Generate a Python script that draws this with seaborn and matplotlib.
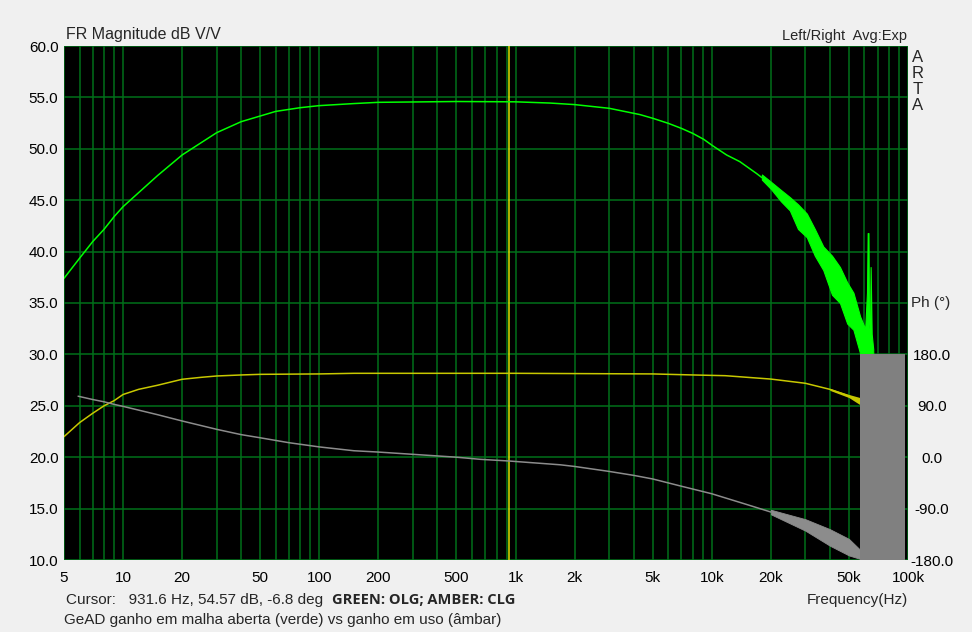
import numpy as np
import matplotlib
matplotlib.use("Agg")
import matplotlib.pyplot as plt
import seaborn as sns

# --- data ---
# open loop gain (green), main trace
olg_f = [5, 6, 7, 8, 9, 10, 15, 20, 30, 40, 50, 60, 80, 100, 150, 200, 500,
         1000, 1500, 2000, 3000, 4300, 5000, 6000, 7000, 8000, 9100, 10100,
         11900, 13900, 16900, 18000]
olg_db = [37.4, 39.35, 40.97, 42.17, 43.4, 44.37, 47.4, 49.4, 51.57, 52.64, 53.19,
          53.64, 54.0, 54.2, 54.4, 54.52, 54.6, 54.57, 54.45, 54.3, 53.94, 53.33,
          52.97, 52.48, 51.99, 51.5, 50.92, 50.3, 49.4, 48.75, 47.6, 47.2]
# noisy high-frequency part of the open loop gain (low / high envelope)
olg_band_f = [18000, 20000, 22500, 25000, 27500, 30500, 33500, 37000, 41000, 45000,
              49000, 52700, 57000, 60500, 61800, 62300, 62900, 63300, 64000,
              64500, 65300, 66500]
olg_band_lo = [47.0, 46.1, 44.9, 44.0, 42.2, 41.4, 39.6, 38.2, 35.8, 35.0,
               33.0, 32.4, 30.1, 30.0, 30.0, 30.0, 30.0, 30.0, 30.0,
               30.0, 30.0, 30.0]
olg_band_hi = [47.5, 46.8, 46.0, 45.3, 44.6, 43.7, 42.2, 40.5, 39.6, 38.5,
               37.0, 36.0, 33.7, 32.5, 36.0, 41.8, 41.8, 33.0, 32.0,
               38.5, 32.0, 30.5]

# closed loop gain (amber)
clg_f = [5, 6, 7, 8, 9, 10, 12, 15, 20, 25, 30, 40, 50, 100, 150, 1000, 5000,
         8000, 11700, 20000, 30000, 40000, 50000, 57000]
clg_db = [22.0, 23.36, 24.27, 25.0, 25.5, 26.1, 26.6, 27.0, 27.58, 27.77, 27.9,
          28.0, 28.06, 28.1, 28.16, 28.16, 28.1, 28.0, 27.93, 27.6, 27.19, 26.6,
          25.95, 25.45]
clg_band_f = [40000, 50000, 57000]
clg_band_lo = [26.5, 25.8, 25.1]
clg_band_hi = [26.7, 26.1, 25.8]

# phase of the open loop gain (grey), degrees
ph_f = [5.9, 7, 8, 9, 10, 15, 20, 30, 40, 50, 70, 100, 150, 200, 500, 660, 930,
        1690, 2000, 3000, 4000, 5000, 7000, 10000, 15000, 20000]
ph_deg = [106.8, 101, 97, 92.5, 89, 74.4, 63.4, 48.8, 39.5, 34, 25.4, 18, 11.3,
          9, 0, -3.7, -6.7, -13.3, -16.2, -24.9, -31.8, -38.1, -50.8, -64,
          -82.6, -96]
ph_band_f = [20000, 30000, 40000, 50000, 57000]
ph_band_lo = [-100, -128.7, -155, -172, -178]
ph_band_hi = [-92, -108.5, -126, -143, -162]
# phase wraps continuously above ~57 kHz -> solid block
wrap_f = [57000, 96700]
wrap_lo = [-180, -180]
wrap_hi = [180, 180]

cursor_f = 931.6

xticks = [5, 10, 20, 50, 100, 200, 500, 1000, 2000, 5000, 10000, 20000, 50000, 100000]
xlabels = ["5", "10", "20", "50", "100", "200", "500", "1k", "2k", "5k", "10k",
           "20k", "50k", "100k"]
yticks = [10, 15, 20, 25, 30, 35, 40, 45, 50, 55, 60]
phticks = [-180, -90, 0, 90, 180]

# --- style ---
grid_green = "#00701a"
sns.set_style("dark", {"axes.facecolor": "black", "figure.facecolor": "#f0f0f0",
                       "axes.edgecolor": "black", "grid.color": grid_green})
plt.rcParams["font.family"] = ["Liberation Sans", "DejaVu Sans"]
plt.rcParams["font.size"] = 11

fig = plt.figure(figsize=(9.72, 6.32), dpi=100)
ax = fig.add_axes([64 / 972, 1 - 560 / 632, 844 / 972, 514 / 632])

ax.set_xscale("log")
ax.set_xlim(5, 100000)
ax.set_ylim(10, 60)

minor = []
for dec in [1, 10, 100, 1000, 10000]:
    for m in range(1, 10):
        v = m * dec
        if 5 <= v <= 100000:
            minor.append(v)
ax.set_xticks(minor, minor=True)
ax.set_xticks(xticks)
ax.set_xticklabels(xlabels)
ax.set_yticks(yticks)
ax.set_yticklabels([f"{v:.1f}" for v in yticks])
ax.grid(True, which="both", color=grid_green, linewidth=1.1)
ax.tick_params(which="both", length=0, labelsize=11, colors="black")
ax.tick_params(axis="x", pad=8)
ax.tick_params(axis="y", pad=4)
ax.xaxis.set_minor_formatter(plt.NullFormatter())
for s in ax.spines.values():
    s.set_visible(False)

# cursor
ax.axvline(cursor_f, color="#e0e000", linewidth=1.1, zorder=2)

# closed loop gain
sns.lineplot(x=clg_f, y=clg_db, ax=ax, color="#c8c800", linewidth=1.1, zorder=3)
ax.fill_between(clg_band_f, clg_band_lo, clg_band_hi, color="#c8c800", linewidth=0, zorder=3)

# open loop gain
sns.lineplot(x=olg_f, y=olg_db, ax=ax, color="#00ff00", linewidth=1.1, zorder=4)
ax.fill_between(olg_band_f, olg_band_lo, olg_band_hi, color="#00ff00", linewidth=0.8,
                edgecolor="#00ff00", zorder=4)

# phase on its own scale: -180..180 deg spans 10..30 dB
ax2 = ax.twinx()
ax2.set_ylim(-180, 720)
ax2.set_yticks(phticks)
ax2.set_yticklabels([f"{v:.1f}" for v in phticks])
ax2.grid(False)
ax2.tick_params(length=0, labelsize=11, colors="black", pad=17)
for lab in ax2.get_yticklabels():
    lab.set_horizontalalignment("center")
for s in ax2.spines.values():
    s.set_visible(False)
sns.lineplot(x=ph_f, y=ph_deg, ax=ax2, color="#8c8c8c", linewidth=1.1)
ax2.fill_between(ph_band_f, ph_band_lo, ph_band_hi, color="#8c8c8c", linewidth=0.6,
                 edgecolor="#8c8c8c")
ax2.fill_between(wrap_f, wrap_lo, wrap_hi, color="#808080", linewidth=0)
ax2.set_xlim(5, 100000)

# --- texts ---
fig.text(66 / 972, 1 - 34 / 632, "FR Magnitude dB V/V", fontsize=11.5, va="center")
fig.text(907 / 972, 1 - 36 / 632, "Left/Right  Avg:Exp", fontsize=10.5, va="center", ha="right")
for i, ch in enumerate("ARTA"):
    fig.text(918 / 972, 1 - (57 + i * 16) / 632, ch, fontsize=12, va="center", ha="center")
fig.text(931 / 972, 1 - 303 / 632, "Ph (°)", fontsize=11, va="center", ha="center")
fig.text(66 / 972, 1 - 600 / 632, "Cursor:   931.6 Hz, 54.57 dB, -6.8 deg", fontsize=11, va="center")
fig.text(332 / 972, 1 - 600 / 632, "GREEN: OLG; AMBER: CLG", fontsize=10.5,
         fontweight="bold", va="center", family=["Open Sans", "DejaVu Sans"])
fig.text(908 / 972, 1 - 600 / 632, "Frequency(Hz)", fontsize=11, va="center", ha="right")
fig.text(64 / 972, 1 - 620 / 632, "GeAD ganho em malha aberta (verde) vs ganho em uso (âmbar)",
         fontsize=11, va="center")

fig.savefig("out.png", dpi=100)
